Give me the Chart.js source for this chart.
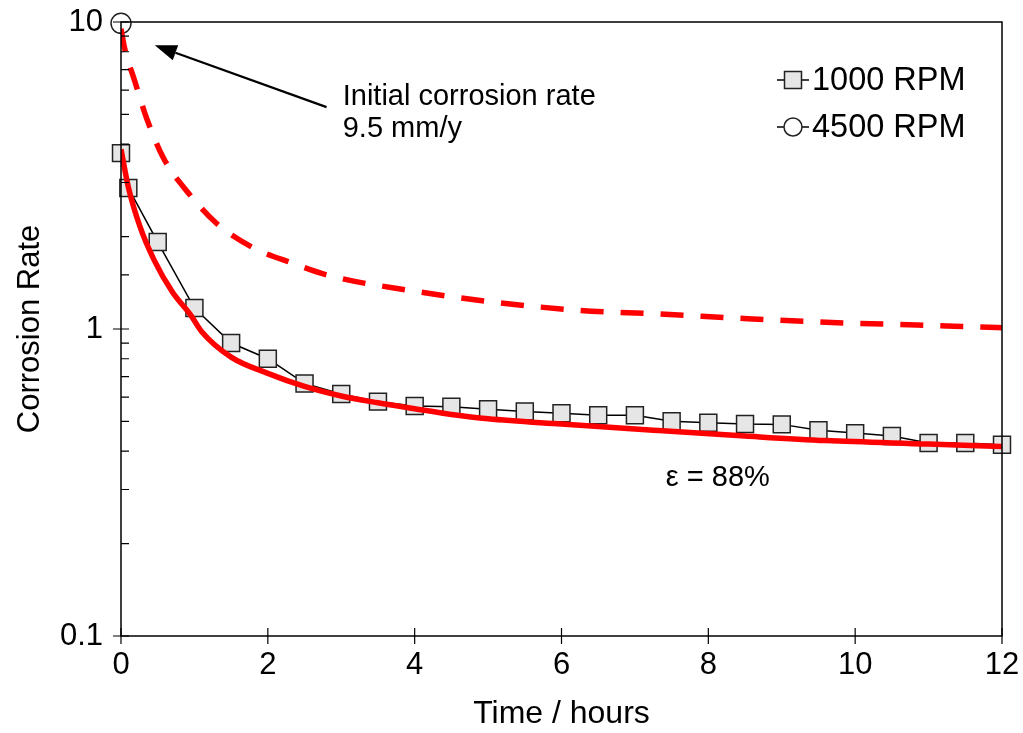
<!DOCTYPE html>
<html>
<head>
<meta charset="utf-8">
<script src="https://cdn.jsdelivr.net/npm/chart.js@4.4.0/dist/chart.umd.min.js"></script>
<style>
  html, body { margin: 0; padding: 0; background: #fff; }
  #wrap { width: 1023px; height: 733px; }
</style>
</head>
<body>
<div id="wrap"><canvas id="myChart" width="1023" height="733"></canvas></div>
<script>
// measured points, 1000 RPM
let time1000 = [0, 0.1, 0.5, 1, 1.5, 2, 2.5, 3, 3.5, 4, 4.5, 5, 5.5, 6, 6.5, 7, 7.5, 8, 8.5, 9, 9.5, 10, 10.5, 11, 11.5, 12];
let rate1000 = [3.74, 2.88, 1.92, 1.17, 0.90, 0.80, 0.665, 0.614, 0.580, 0.561, 0.558, 0.548, 0.539, 0.532, 0.524, 0.524, 0.501, 0.495, 0.490, 0.489, 0.468, 0.458, 0.448, 0.425, 0.425, 0.420];

// initial point, 4500 RPM
let time4500 = [0];
let rate4500 = [9.9];

// fitted curves
let fitHighTime = [0, 0.05, 0.18, 0.35, 0.58, 0.92, 1.3, 1.78, 2.33, 2.85, 3.98, 5.12, 6.25, 7.3, 8.54, 9.68, 10.84, 12];
let fitHighRate = [9.5, 8.2, 6.5, 4.85, 3.6, 2.77, 2.21, 1.85, 1.64, 1.49, 1.33, 1.22, 1.15, 1.12, 1.08, 1.05, 1.03, 1.01];
let fitLowTime = [0, 0.1, 0.26, 0.45, 0.7, 0.95, 1.1, 1.5, 2, 2.5, 3, 3.5, 4, 4.5, 5, 6, 7.25, 8.5, 9.6, 11, 12];
let fitLowRate = [3.85, 2.9, 2.15, 1.68, 1.32, 1.11, 0.98, 0.81, 0.717, 0.65, 0.605, 0.575, 0.55, 0.527, 0.51, 0.49, 0.468, 0.448, 0.433, 0.422, 0.414];

let xTicks = [0, 2, 4, 6, 8, 10, 12];
let yLabels = [0.1, 1, 10];
let legendLabels = ["1000 RPM", "4500 RPM"];

// annotation anchors in data units
let arrowTip = [0.46, 8.4];
let arrowTail = [2.8, 5.28];
let noteText = ["Initial corrosion rate", "9.5 mm/y"];
let noteAt = [3.02, 5.7];
let effText = "\u03b5 = 88%";
let effAt = [8.13, 0.326];

const FONT = "'Liberation Sans', Arial, sans-serif";

function pairs(xs, ys) {
    return xs.map((x, i) => ({ x: x, y: ys[i] }));
}

function isDecade(v) {
    let l = Math.log10(v);
    return Math.abs(l - Math.round(l)) < 1e-6;
}

const extras = {
    id: 'extras',
    afterDraw(chart) {
        const ctx = chart.ctx;
        const a = chart.chartArea;
        const xs = chart.scales.x, ys = chart.scales.y;
        ctx.save();
        ctx.strokeStyle = '#000';
        ctx.lineWidth = 1.5;
        ctx.strokeRect(a.left, a.top, a.right - a.left, a.bottom - a.top);

        // tick marks
        ctx.beginPath();
        xTicks.forEach(t => {
            let px = xs.getPixelForValue(t);
            ctx.moveTo(px, a.bottom - 8);
            ctx.lineTo(px, a.bottom + 8);
        });
        ys.ticks.forEach(t => {
            let py = ys.getPixelForValue(t.value);
            if (isDecade(t.value)) {
                ctx.moveTo(a.left - 8, py);
            } else {
                ctx.moveTo(a.left, py);
            }
            ctx.lineTo(a.left + 8, py);
        });
        ctx.lineWidth = 1.2;
        ctx.stroke();

        // arrow
        let tx = xs.getPixelForValue(arrowTip[0]), ty = ys.getPixelForValue(arrowTip[1]);
        let sx = xs.getPixelForValue(arrowTail[0]), sy = ys.getPixelForValue(arrowTail[1]);
        let ang = Math.atan2(ty - sy, tx - sx);
        let hl = 22, hw = 8;
        let bx = tx - hl * Math.cos(ang), by = ty - hl * Math.sin(ang);
        ctx.beginPath();
        ctx.moveTo(sx, sy);
        ctx.lineTo(bx, by);
        ctx.lineWidth = 2.2;
        ctx.stroke();
        ctx.beginPath();
        ctx.moveTo(tx, ty);
        ctx.lineTo(bx + hw * Math.sin(ang), by - hw * Math.cos(ang));
        ctx.lineTo(bx - hw * Math.sin(ang), by + hw * Math.cos(ang));
        ctx.closePath();
        ctx.fillStyle = '#000';
        ctx.fill();

        // texts
        ctx.fillStyle = '#000';
        ctx.font = '29px ' + FONT;
        ctx.textAlign = 'left';
        ctx.textBaseline = 'middle';
        let nx = xs.getPixelForValue(noteAt[0]);
        let ny = ys.getPixelForValue(noteAt[1]);
        ctx.fillText(noteText[0], nx, ny);
        ctx.fillText(noteText[1], nx, ny + 32);
        ctx.textAlign = 'center';
        ctx.fillText(effText, xs.getPixelForValue(effAt[0]), ys.getPixelForValue(effAt[1]));

        // legend
        let lx = 793, rows = [80, 127];
        ctx.font = '32.5px ' + FONT;
        ctx.textAlign = 'left';
        rows.forEach((ry, i) => {
            ctx.beginPath();
            ctx.moveTo(lx - 16, ry);
            ctx.lineTo(lx + 16, ry);
            ctx.strokeStyle = '#000';
            ctx.lineWidth = 1.5;
            ctx.stroke();
            ctx.beginPath();
            if (i === 0) {
                ctx.rect(lx - 8.5, ry - 8.5, 17, 17);
                ctx.fillStyle = '#e6e6e6';
            } else {
                ctx.arc(lx, ry, 9, 0, Math.PI * 2);
                ctx.fillStyle = '#fff';
            }
            ctx.fill();
            ctx.strokeStyle = '#222';
            ctx.stroke();
            ctx.fillStyle = '#000';
            ctx.fillText(legendLabels[i], lx + 19, ry + 1);
        });
        ctx.restore();
    }
};

const ctx = document.getElementById('myChart').getContext('2d');
const myChart = new Chart(ctx, {
    type: 'scatter',
    data: {
        datasets: [{
            label: 'fit high',
            data: pairs(fitHighTime, fitHighRate),
            showLine: true,
            borderColor: '#ff0000',
            borderWidth: 5.5,
            borderDash: [23, 17],
            borderCapStyle: 'butt',
            cubicInterpolationMode: 'monotone',
            pointRadius: 0,
            order: 0
        }, {
            label: 'fit low',
            data: pairs(fitLowTime, fitLowRate),
            showLine: true,
            borderColor: '#ff0000',
            borderWidth: 5.5,
            cubicInterpolationMode: 'monotone',
            pointRadius: 0,
            order: 1
        }, {
            label: legendLabels[0],
            data: pairs(time1000, rate1000),
            showLine: true,
            borderColor: '#000',
            borderWidth: 1.5,
            pointStyle: 'rect',
            pointRadius: 12,
            pointBackgroundColor: '#e6e6e6',
            pointBorderColor: '#222',
            pointBorderWidth: 1.5,
            clip: false,
            order: 2
        }, {
            label: legendLabels[1],
            data: pairs(time4500, rate4500),
            pointStyle: 'circle',
            pointRadius: 10,
            pointBackgroundColor: '#fff',
            pointBorderColor: '#222',
            pointBorderWidth: 1.5,
            clip: false,
            order: 3
        }]
    },
    options: {
        responsive: false,
        animation: false,
        events: [],
        layout: { padding: { top: 22, right: 21, left: 0, bottom: 0 } },
        plugins: {
            legend: { display: false },
            tooltip: { enabled: false }
        },
        scales: {
            x: {
                type: 'linear',
                min: 0,
                max: 12,
                afterFit: (s) => { s.height = 97; s.paddingLeft = 0; s.paddingRight = 0; },
                afterBuildTicks: (s) => { s.ticks = xTicks.map(v => ({ value: v })); },
                ticks: {
                    color: '#000',
                    padding: 11,
                    font: { family: FONT, size: 31 },
                    maxRotation: 0
                },
                grid: { display: false, drawTicks: false },
                border: { display: false },
                title: {
                    display: true,
                    text: 'Time / hours',
                    color: '#000',
                    font: { family: FONT, size: 32 },
                    padding: { top: 0, bottom: 0 }
                }
            },
            y: {
                type: 'logarithmic',
                min: 0.1,
                max: 10,
                afterFit: (s) => { s.width = 121; s.paddingTop = 0; s.paddingBottom = 0; },
                ticks: {
                    color: '#000',
                    padding: 18,
                    autoSkip: false,
                    font: { family: FONT, size: 31 },
                    callback: (value) => {
                        for (let v of yLabels) {
                            if (Math.abs(value - v) < v * 1e-6) return String(v);
                        }
                        return '';
                    }
                },
                grid: { display: false, drawTicks: false },
                border: { display: false },
                title: {
                    display: true,
                    text: 'Corrosion Rate',
                    color: '#000',
                    font: { family: FONT, size: 31 },
                    padding: { top: 12, bottom: 0 }
                }
            }
        }
    },
    plugins: [extras]
});
</script>
</body>
</html>
